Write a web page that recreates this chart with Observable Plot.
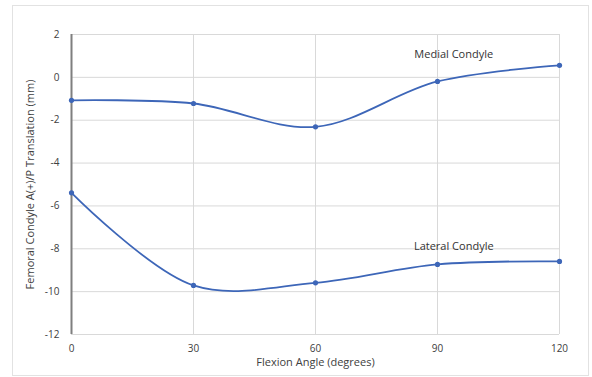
<!DOCTYPE html>
<html>
<head>
<meta charset="utf-8">
<script src="https://cdn.jsdelivr.net/npm/d3@7"></script>
<script src="https://cdn.jsdelivr.net/npm/@observablehq/plot@0.6"></script>
<style>
  html, body { margin: 0; padding: 0; background: #fff; }
  #wrap { position: relative; width: 592px; height: 377px; }
  #border { position: absolute; left: 12px; top: 5px; width: 575px; height: 369px; border: 1px solid #e2e2e2; pointer-events: none; }
</style>
</head>
<body>
<div id="wrap"><div id="border"></div></div>
<script>
const angles = [0, 30, 60, 90, 120];
const medial = [-1.07, -1.22, -2.31, -0.19, 0.56];
const lateral = [-5.39, -9.71, -9.59, -8.73, -8.59];
const seriesNames = ["Medial Condyle", "Lateral Condyle"];
const yTicks = [2, 0, -2, -4, -6, -8, -10, -12];
const xTicks = [0, 30, 60, 90, 120];

const rows = [
  ...angles.map((a, i) => ({angle: a, value: medial[i], series: seriesNames[0]})),
  ...angles.map((a, i) => ({angle: a, value: lateral[i], series: seriesNames[1]}))
];
const labels = [
  {angle: 94, value: 1.07, text: seriesNames[0]},
  {angle: 94, value: -7.88, text: seriesNames[1]}
];

const blue = "#3d66b8";
const chart = Plot.plot({
  width: 592,
  height: 377,
  marginLeft: 71,
  marginRight: 33,
  marginTop: 34,
  marginBottom: 43,
  style: {fontFamily: "'Open Sans', sans-serif", fontSize: "10px", color: "#404040", background: "transparent"},
  x: {domain: [0, 120], ticks: xTicks, label: null},
  y: {domain: [-12, 2], ticks: yTicks, label: null},
  marks: [
    Plot.gridX(xTicks, {stroke: "#d9d9d9", strokeOpacity: 1}),
    Plot.gridY(yTicks, {stroke: "#d9d9d9", strokeOpacity: 1}),
    Plot.ruleX([0], {stroke: "#7f7f7f", strokeWidth: 2}),
    Plot.axisX(xTicks, {tickSize: 0, tickPadding: 10, fontSize: 10, fill: "#404040", tickFormat: d => String(d)}),
    Plot.axisY(yTicks, {tickSize: 0, tickPadding: 12, fontSize: 10, fill: "#404040", tickFormat: d => String(d)}),
    Plot.line(rows, {x: "angle", y: "value", z: "series", stroke: blue, strokeWidth: 1.8, curve: "catmull-rom"}),
    Plot.dot(rows, {x: "angle", y: "value", fill: blue, r: 2.6}),
    Plot.text(labels, {x: "angle", y: "value", text: "text", fontSize: 11, fill: "#333"}),
    Plot.text(["Flexion Angle (degrees)"], {frameAnchor: "bottom", dy: 31, fontSize: 11, fill: "#404040", x: 60}),
    Plot.text(["Femoral Condyle A(+)/P Translation (mm)"], {frameAnchor: "left", dx: -41, rotate: -90, textAnchor: "middle", fontSize: 11, fill: "#404040"})
  ]
});
document.getElementById("wrap").appendChild(chart);
chart.style.position = "absolute";
chart.style.left = "0";
chart.style.top = "0";
</script>
</body>
</html>
